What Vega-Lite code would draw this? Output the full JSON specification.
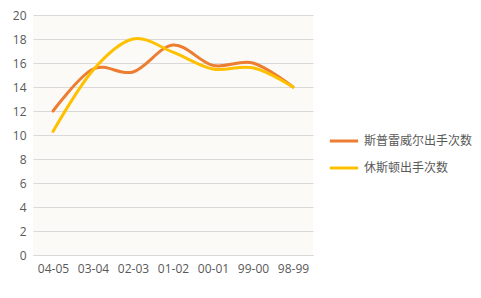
{
  "$schema": "https://vega.github.io/schema/vega-lite/v6.json",
  "width": 280,
  "height": 240,
  "autosize": {"type": "none"},
  "padding": {"left": 33, "top": 15, "right": 168, "bottom": 43},
  "background": "white",
  "config": {
    "font": "Noto Sans CJK SC",
    "view": {"stroke": null, "fill": "#FBFAF7"}
  },
  "data": {
    "values": [
      {"season": "04-05", "series": "斯普雷威尔出手次数", "value": 12.0},
      {"season": "03-04", "series": "斯普雷威尔出手次数", "value": 15.5},
      {"season": "02-03", "series": "斯普雷威尔出手次数", "value": 15.25},
      {"season": "01-02", "series": "斯普雷威尔出手次数", "value": 17.5},
      {"season": "00-01", "series": "斯普雷威尔出手次数", "value": 15.8},
      {"season": "99-00", "series": "斯普雷威尔出手次数", "value": 16.0},
      {"season": "98-99", "series": "斯普雷威尔出手次数", "value": 14.0},
      {"season": "04-05", "series": "休斯顿出手次数", "value": 10.3},
      {"season": "03-04", "series": "休斯顿出手次数", "value": 15.4},
      {"season": "02-03", "series": "休斯顿出手次数", "value": 18.0},
      {"season": "01-02", "series": "休斯顿出手次数", "value": 16.9},
      {"season": "00-01", "series": "休斯顿出手次数", "value": 15.5},
      {"season": "99-00", "series": "休斯顿出手次数", "value": 15.6},
      {"season": "98-99", "series": "休斯顿出手次数", "value": 14.0}
    ]
  },
  "mark": {"type": "line", "interpolate": "cardinal", "strokeWidth": 3, "strokeCap": "round"},
  "encoding": {
    "x": {
      "field": "season", "type": "nominal", "sort": null,
      "scale": {"paddingInner": 0, "paddingOuter": 0.5},
      "axis": {
        "title": null, "labelAngle": 0, "ticks": false, "grid": false,
        "domainColor": "#D9D9D9", "labelColor": "#595959", "labelFontSize": 12,
        "labelPadding": 8, "labelFont": "Open Sans"
      }
    },
    "y": {
      "field": "value", "type": "quantitative",
      "scale": {"domain": [0, 20], "nice": false},
      "axis": {
        "title": null, "values": [0, 2, 4, 6, 8, 10, 12, 14, 16, 18, 20],
        "ticks": false, "domain": false, "gridColor": "#D9D9D9",
        "labelColor": "#595959", "labelFontSize": 12, "labelPadding": 7,
        "labelFont": "Open Sans"
      }
    },
    "color": {
      "field": "series", "type": "nominal",
      "scale": {"domain": ["斯普雷威尔出手次数", "休斯顿出手次数"], "range": ["#ED7D31", "#FFC000"]},
      "legend": {
        "title": null, "orient": "none", "legendX": 295, "legendY": 110,
        "symbolType": "stroke", "symbolSize": 800, "symbolStrokeWidth": 3,
        "labelFontSize": 12, "labelColor": "#595959", "rowPadding": 5,
        "labelOffset": 4
      }
    }
  }
}
